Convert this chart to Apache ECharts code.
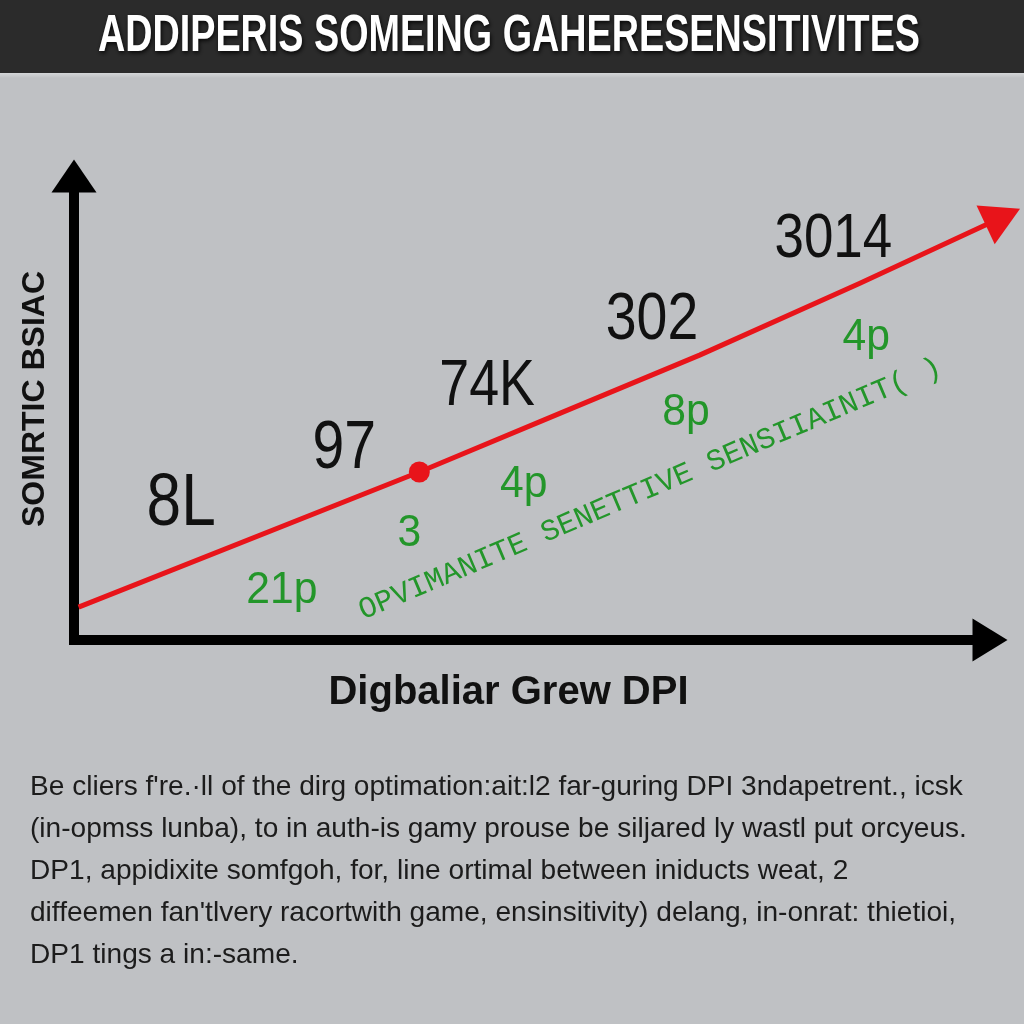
<!DOCTYPE html>
<html><head><meta charset="utf-8">
<script src="https://cdn.jsdelivr.net/npm/echarts@6/dist/echarts.min.js"></script>
<style>html,body{margin:0;padding:0;background:#bec0c3}#chart{width:1024px;height:1024px}</style>
</head><body><div id="chart"></div>
<script>
// ---- data ----
const titleText = 'ADDIPERIS SOMEING GAHERESENSITIVITES';
const xAxisName = 'Digbaliar Grew DPI';
const yAxisName = 'SOMRTIC BSIAC';
const trendX = [0.5, 37.7, 53.1, 68.3, 85.8, 101.4];
const trendY = [7.1, 36.2, 48.9, 61.4, 76.9, 91.2];
const markerIndex = 1;
const blackLabels = ['8L', '97', '74K', '302', '3014'];
const blackLabelX = [11.7, 29.5, 45.1, 63.1, 82.9];
const blackLabelY = [29.2, 41.1, 54.5, 68.9, 86.3];
const greenLabels = ['21p', '3', '4p', '8p', '4p'];
const greenLabelX = [22.7, 36.6, 49.1, 66.8, 86.5];
const greenLabelY = [10.6, 22.8, 33.4, 48.9, 65.2];
const bandLabels = ['OPVIMANITE SENETTIVE SENSIIAINIT( )'];
const bandX = [62.9];
const bandY = [32.5];
const paragraphLines = [
  "Be cliers f're.\u00b7ll of the dirg optimation:ait:l2 far-guring DPI 3ndapetrent., icsk",
  "(in-opmss lunba), to in auth-is gamy prouse be siljared ly wastl put orcyeus.",
  "DP1, appidixite somfgoh, for, line ortimal between iniducts weat, 2",
  "diffeemen fan'tlvery racortwith game, ensinsitivity) delang, in-onrat: thietioi,",
  "DP1 tings a in:-same."
];

// ---- styles ----
const blackFontSize = [74, 68, 64, 66, 63];
const FONT = '"Liberation Sans", Arial, sans-serif';

const chart = echarts.init(document.getElementById('chart'), null, {renderer: 'canvas'});

function labelSeries(name, labels, xs, ys, styleFn) {
  return {
    type: 'custom', name: name, silent: true, z: 5,
    data: labels.map((t, i) => [xs[i], ys[i]]),
    renderItem: function (params, api) {
      const p = api.coord([api.value(0), api.value(1)]);
      return styleFn(params.dataIndex, p, labels[params.dataIndex]);
    }
  };
}

const option = {
  backgroundColor: '#bfc1c4',
  animation: false,
  grid: {left: 74, right: 34, top: 176, bottom: 384, containLabel: false, outerBoundsMode: 'none'},
  xAxis: {
    type: 'value', min: 0, max: 100,
    name: xAxisName, nameLocation: 'middle', nameGap: 33,
    nameTextStyle: {fontFamily: FONT, fontWeight: 'bold', fontSize: 40, lineHeight: 40, color: '#111', padding: [0, 47, 0, 0]},
    axisLine: {show: true, onZero: false, symbol: ['none', 'triangle'], symbolSize: [43, 35],
      lineStyle: {color: '#000', width: 10, cap: 'square'}},
    axisTick: {show: false}, axisLabel: {show: false}, splitLine: {show: false}
  },
  yAxis: {
    type: 'value', min: 0, max: 100,
    name: yAxisName, nameLocation: 'middle', nameGap: 23, nameRotate: 90,
    nameTextStyle: {fontFamily: FONT, fontWeight: 'bold', fontSize: 32, lineHeight: 32, color: '#111', padding: [0, 0, 0, 18]},
    axisLine: {show: true, onZero: false, symbol: ['none', 'triangle'], symbolSize: [45, 33],
      lineStyle: {color: '#000', width: 10, cap: 'square'}},
    axisTick: {show: false}, axisLabel: {show: false}, splitLine: {show: false}
  },
  graphic: [
    {type: 'rect', z: 0, shape: {x: 0, y: 0, width: 1024, height: 73}, style: {fill: '#2b2b2b'}},
    {type: 'rect', z: 0, shape: {x: 0, y: 73, width: 1024, height: 5},
      style: {fill: new echarts.graphic.LinearGradient(0, 0, 0, 1, [{offset: 0, color: '#d4d6d8'}, {offset: 1, color: '#bfc1c4'}])}},
    {type: 'text', z: 1, x: 509, y: 37, scaleX: 0.74,
      style: {text: titleText, font: 'bold 51px ' + FONT, fill: '#ffffff', align: 'center', verticalAlign: 'middle',
        textShadowColor: 'rgba(0,0,0,0.85)', textShadowBlur: 4, textShadowOffsetX: 1, textShadowOffsetY: 2}},
    {type: 'text', z: 1, x: 30, y: 766,
      style: {text: paragraphLines.join('\n'), font: '28.1px ' + FONT, fill: '#1c1c1c', lineHeight: 42}}
  ],
  series: [
    {
      type: 'line', name: 'trend', z: 4, clip: false, silent: true,
      data: trendX.map((x, i) => {
        const item = {value: [x, trendY[i]], symbol: 'none'};
        if (i === markerIndex) { item.symbol = 'circle'; item.symbolSize = 21; }
        if (i === trendX.length - 1) { item.symbol = 'triangle'; item.symbolSize = [43, 38]; item.symbolRotate = -65; }
        return item;
      }),
      showSymbol: true, showAllSymbol: true,
      lineStyle: {color: '#e8141a', width: 5, join: 'round'},
      itemStyle: {color: '#e8141a', borderWidth: 0}
    },
    labelSeries('black', blackLabels, blackLabelX, blackLabelY, function (i, p, t) {
      return {type: 'text', x: p[0], y: p[1], scaleX: 0.84,
        style: {text: t, fontFamily: FONT, fontSize: blackFontSize[i], fill: '#111', align: 'center', verticalAlign: 'middle'}};
    }),
    labelSeries('green', greenLabels, greenLabelX, greenLabelY, function (i, p, t) {
      return {type: 'text', x: p[0], y: p[1], scaleX: 0.97,
        style: {text: t, fontFamily: FONT, fontSize: 44, fill: '#23962a', align: 'center', verticalAlign: 'middle'}};
    }),
    labelSeries('band', bandLabels, bandX, bandY, function (i, p, t) {
      return {type: 'text', x: p[0], y: p[1], rotation: 23 * Math.PI / 180,
        style: {text: t, fontFamily: '"Liberation Mono", "DejaVu Sans Mono", monospace', fontSize: 30, fill: '#23962a', align: 'center', verticalAlign: 'middle'}};
    })
  ]
};
chart.setOption(option);
</script>
</body></html>
